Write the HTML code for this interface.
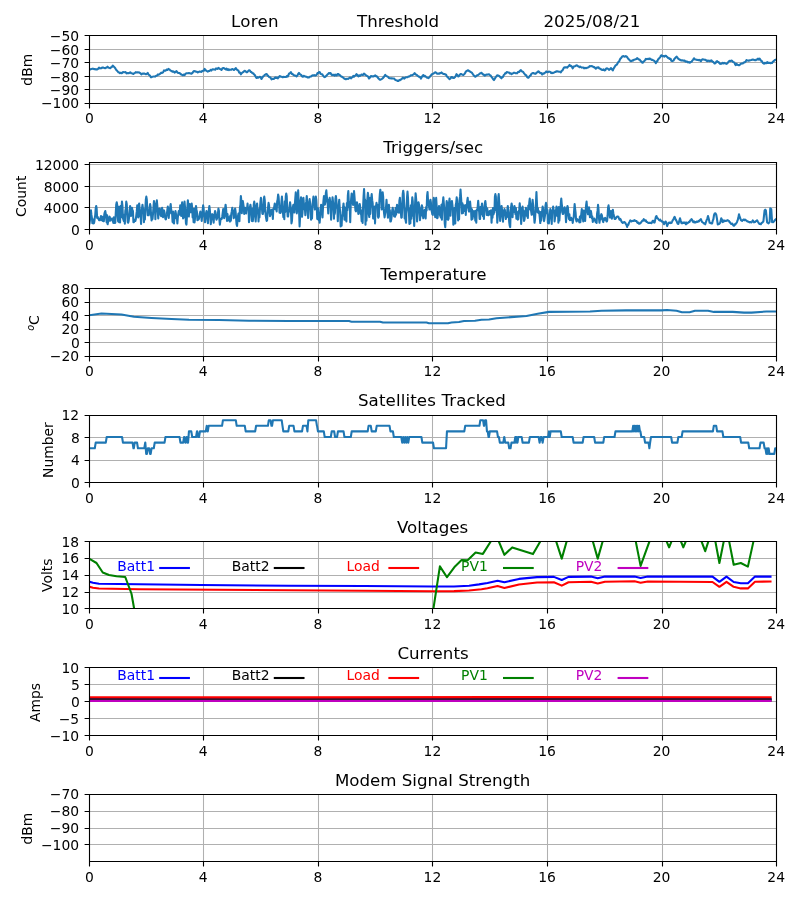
<!DOCTYPE html>
<html lang="en"><head><meta charset="utf-8"><title>Station plots</title>
<style>html,body{margin:0;padding:0;background:#fff;overflow:hidden}#fig{width:800px;height:900px;will-change:transform;transform:translateZ(0)}svg{display:block}</style></head>
<body>
<div id="fig">
<svg width="800" height="900" viewBox="0 0 800 900" font-family="'DejaVu Sans', 'Liberation Sans', sans-serif" font-size="13.89" fill="#000">
<defs>
<clipPath id="c0"><rect x="89.5" y="35.5" width="687" height="68"/></clipPath>
<clipPath id="c1"><rect x="89.5" y="162.5" width="687" height="67"/></clipPath>
<clipPath id="c2"><rect x="89.5" y="288.5" width="687" height="68"/></clipPath>
<clipPath id="c3"><rect x="89.5" y="415.5" width="687" height="67"/></clipPath>
<clipPath id="c4"><rect x="89.5" y="541.5" width="687" height="67"/></clipPath>
<clipPath id="c5"><rect x="89.5" y="667.5" width="687" height="68"/></clipPath>
<clipPath id="c6"><rect x="89.5" y="794.5" width="687" height="67"/></clipPath>
</defs>
<path d="M203.5 35.5V103.5M318.5 35.5V103.5M432.5 35.5V103.5M547.5 35.5V103.5M662.5 35.5V103.5M89.5 89.5H776.5M89.5 76.5H776.5M89.5 62.5H776.5M89.5 49.5H776.5" stroke="#b0b0b0" stroke-width="1.05" fill="none"/>
<polyline points="89.5,69.29 90.25,69.44 91,69.09 91.75,68.96 92.5,68.65 93.25,68.78 94,69.12 94.78,69.05 95.56,69.4 96.34,69.3 97.12,69.51 98.06,68.81 99,67.58 99.78,68.41 100.56,68.29 101.34,68.29 102.12,67.57 102.91,67.55 103.69,67.83 104.47,67.97 105.25,68.23 106,67.69 106.75,67.46 107.5,66.66 108.21,67.39 108.92,67.84 109.62,67.91 110.41,68.13 111.19,67.18 111.97,66.83 112.75,65.67 113.69,66.44 114.62,67.39 115.38,68.46 116.12,69.71 116.88,70.58 117.62,71.35 118.38,72.18 119.16,72.48 119.94,73.22 120.72,72.7 121.5,73.21 122.28,72.95 123.06,72.01 123.84,72.2 124.62,72.31 125.56,72.02 126.5,73.39 127.25,73.31 128,72.93 128.75,73.21 129.5,72.88 130.25,72.27 131.03,73.21 131.81,73.35 132.59,73.62 133.38,73.98 134.16,73.31 134.94,72.91 135.72,72.13 136.5,72.45 137.33,72.21 138.17,72.43 139,72.33 139.78,72.84 140.56,73.39 141.34,74.39 142.12,73.7 142.96,73.48 143.79,73.62 144.62,73.6 145.56,74.13 146.5,74.12 147.75,72.92 148.53,74.65 149.31,75.07 150.09,75.72 150.88,77.2 151.71,77.11 152.54,76.68 153.38,76.58 154.16,76.42 154.94,76.59 155.72,76.05 156.5,75.8 157.25,75.38 158,74.26 158.75,74.77 159.5,74.24 160.25,73.67 161.19,72.66 162.12,72.92 163.06,72.34 164,70.4 164.83,70.61 165.67,70.67 166.5,69.57 167.44,69.91 168.38,68.93 169.21,69.33 170.04,70.11 170.88,70.84 171.62,70.99 172.38,71.65 173.12,71.38 173.88,71.79 174.62,72.59 175.56,71.88 176.5,71.21 177.33,72.35 178.17,73.07 179,72.98 179.78,73.14 180.56,74.02 181.34,74.48 182.12,74.9 182.96,75.38 183.79,74.49 184.62,75.17 185.46,73.79 186.29,73.41 187.12,73.33 188.06,73.31 189,73.03 189.83,73.2 190.67,73.46 191.5,73.8 192.33,73.02 193.17,71.86 194,71.09 194.75,71.36 195.5,71.35 196.25,71.78 197,71.89 197.75,72.54 198.5,71.93 199.25,71.63 200,71.6 200.75,71.67 201.5,71.93 202.28,71.05 203.06,70.81 203.84,70.83 204.62,68.9 205.41,69.82 206.19,70.71 206.97,71.19 207.75,71.58 208.48,71 209.21,71.01 209.94,70.53 210.67,69.91 211.4,70.53 212.12,69.49 212.91,69.29 213.69,69.53 214.47,69.58 215.25,69.73 216.03,68.44 216.81,68.78 217.59,68.86 218.38,67.74 219.16,68.42 219.94,69.06 220.72,69.35 221.5,69.87 222.44,68.19 223.38,68.01 224.16,68.32 224.94,68.96 225.72,69.42 226.5,68.49 227.28,69.89 228.06,69.21 228.84,70.07 229.62,69.51 230.46,69.72 231.29,69.73 232.12,68.95 233.06,69.44 234,70.01 234.94,68.98 235.88,68.1 236.71,69.46 237.54,70.14 238.38,70.53 239.21,72.66 240.04,72.5 240.88,74.3 241.62,73.24 242.38,72.69 243.12,72.21 243.88,71.37 244.62,70.84 245.56,71.18 246.5,72.25 247.33,72.24 248.17,71.02 249,70.29 249.83,70.56 250.67,71.88 251.5,72.12 252.33,73.19 253.17,73.23 254,74.38 254.83,75.04 255.67,76.71 256.5,78.02 257.28,77.05 258.06,77.7 258.84,77.36 259.62,76.82 260.56,77.04 261.5,78.96 262.33,77.51 263.17,76.38 264,75.76 264.94,74.82 265.88,74.24 266.71,74.04 267.54,75.37 268.38,76.12 269.16,76.95 269.94,77.25 270.72,77.91 271.5,79.34 272.25,78.86 273,78.69 273.75,78.94 274.5,78.21 275.25,77.37 276.08,78 276.92,77.51 277.75,78.4 278.69,77.29 279.62,76.05 280.41,76.4 281.19,76.84 281.97,76.74 282.75,77.31 283.58,76.73 284.42,76.97 285.25,76.99 286.08,76.95 286.92,76.11 287.75,76.54 289,73.76 289.94,73.2 290.88,72.1 291.71,73.85 292.54,73.84 293.38,75 294.16,75.25 294.94,75.62 295.72,75.74 296.5,76.33 297.33,75.67 298.17,73.93 299,72.93 299.78,74.02 300.56,74.56 301.34,75.15 302.12,76.32 302.91,76.79 303.69,75.83 304.47,76.12 305.25,76.58 306,76.81 306.75,76.85 307.5,77.42 308.25,77.5 309,77.36 309.78,76.7 310.56,76.48 311.34,76.46 312.12,75.44 312.88,75.33 313.62,75.37 314.38,75.12 315.12,75.59 315.88,75.24 316.66,74.9 317.44,73.16 318.22,73.2 319,72.04 319.83,72.32 320.67,73.91 321.5,74.28 322.28,74.36 323.06,75.52 323.84,76.63 324.62,77.1 325.35,76.76 326.08,76 326.81,75.22 327.54,74.36 328.27,73.94 329,72.97 329.78,73.4 330.56,73.06 331.34,74.55 332.12,75.18 332.88,74.75 333.62,74.8 334.38,75.69 335.12,74.57 335.88,75.4 336.71,75.55 337.54,73.94 338.38,73.98 339.16,75.06 339.94,75.09 340.72,76 341.5,76.8 342.23,76.68 342.96,77.43 343.69,78.03 344.42,78.69 345.15,78.88 345.88,79.31 346.6,78.77 347.33,78.71 348.06,78.86 348.79,78.33 349.52,77.74 350.25,77.47 351,78.38 351.75,77.63 352.5,77.21 353.25,75.89 354,76.71 354.83,75.83 355.67,75.39 356.5,74.14 357.44,75.1 358.38,76.42 359.16,75.23 359.94,75.84 360.72,75.23 361.5,74.52 362.33,74.94 363.17,74.85 364,73.54 364.83,74.32 365.67,75.18 366.5,75.69 367.33,76.2 368.17,76.72 369,78.45 369.78,77.65 370.56,76.48 371.34,75.99 372.12,76.56 372.91,76.23 373.69,76.41 374.47,75.99 375.25,75.34 376.08,76.42 376.92,76.33 377.75,77.5 378.58,78.48 379.42,79.42 380.25,79.76 381.08,79.33 381.92,78.9 382.75,78.25 383.58,77.29 384.42,76.11 385.25,74.89 386.08,75.89 386.92,76.27 387.75,76.6 389,77.92 389.73,78.19 390.46,78.21 391.19,78.36 391.92,78.37 392.65,78.5 393.38,78.46 394.09,78.48 394.8,79.42 395.52,80.03 396.23,80.21 396.95,80.4 397.66,81 398.38,80.93 399.12,80.12 399.88,80.27 400.62,79.44 401.38,79.49 402.12,78.39 402.85,77.67 403.58,77.99 404.31,78.65 405.04,77.79 405.77,77.26 406.5,77.25 407.21,77.31 407.93,76.95 408.64,76.49 409.36,76.56 410.07,75.95 410.79,75.35 411.5,75.2 412.28,75.17 413.06,74.57 413.84,74.21 414.62,73.14 415.38,73.95 416.12,74.74 416.88,74.9 417.62,75.85 418.38,76.2 419.21,76.88 420.04,77.1 420.88,78.59 421.71,77.24 422.54,75.85 423.38,75.03 424.21,76.36 425.04,75.89 425.88,76.79 426.71,77.49 427.54,77.84 428.38,78.11 429.16,77.53 429.94,76.56 430.72,75.78 431.5,74.63 432.25,73.96 433,73.81 433.75,73.28 434.5,72.74 435.25,72.27 436.08,72.75 436.92,73.64 437.75,73.65 438.5,73.62 439.25,73.65 440,72.99 440.75,73.16 441.5,72.46 442.25,73.15 443,73.81 443.75,74.06 444.5,74.11 445.25,74.3 446.08,74.74 446.92,76.64 447.75,77.05 448.69,78.49 449.62,79.08 450.46,78.48 451.29,77.11 452.12,77.13 453.06,78 454,77.87 454.83,77.23 455.67,76.21 456.5,74.17 457.44,75.21 458.38,76.52 459.21,75.71 460.04,74.5 460.88,74.01 461.71,74.33 462.54,74.71 463.38,74.98 464.21,74.29 465.04,73.22 465.88,71.44 466.81,71.08 467.75,70.28 468.53,70.58 469.31,71.22 470.09,71.56 470.88,72.04 471.81,72.6 472.75,73.97 473.58,75.2 474.42,75.98 475.25,76.77 476.08,76.23 476.92,75.37 477.75,75.23 478.53,74.65 479.31,74.03 480.09,73.37 480.88,73.07 481.62,72.73 482.38,73.8 483.12,74.64 483.88,74.63 484.62,75.69 485.35,75.4 486.08,74.63 486.81,74.73 487.54,74.44 488.27,74.42 489,74.2 489.83,74.95 490.67,75.64 491.5,76.83 492.33,77.9 493.17,79.2 494,80.1 494.78,78.67 495.56,77.37 496.34,76.6 497.12,75.38 498.06,75.45 499,75.96 499.83,76.55 500.67,77.45 501.5,78.3 502.25,76.99 503,76.89 503.75,75.02 504.5,74.49 505.25,73.17 506,73.32 506.75,71.99 507.5,72.35 508.25,72.51 509,72.45 509.83,73.52 510.67,73.36 511.5,74.17 512.33,73.59 513.17,73.23 514,72.67 514.83,72.78 515.67,73.33 516.5,73.14 517.23,73.31 517.96,72 518.69,71.83 519.42,71.87 520.15,70.51 520.88,70.01 521.71,71.22 522.54,71.68 523.38,72.23 524.09,73.34 524.8,74.19 525.52,74.98 526.23,75.25 526.95,76.83 527.66,77.55 528.38,77.76 529.12,76.91 529.88,75.76 530.62,75.44 531.38,73.82 532.12,73.35 532.88,73.04 533.62,73.05 534.38,73.59 535.12,73.87 535.88,73.5 536.71,72.53 537.54,72.27 538.38,71.23 539.12,71.85 539.88,72.75 540.62,73.12 541.38,73.08 542.12,74.5 542.96,73.54 543.79,73.59 544.62,72.91 545.46,72.57 546.29,71.46 547.12,72.09 547.96,72.2 548.79,71.6 549.62,71.75 550.41,71.93 551.19,73.08 551.97,72.75 552.75,73.11 553.46,72.75 554.18,72.55 554.89,71.96 555.61,72.06 556.32,71.31 557.04,71.49 557.75,71.35 558.53,71.65 559.31,71.67 560.09,71.7 560.88,72.3 561.66,70.9 562.44,70.39 563.22,68.94 564,67.46 564.78,67.41 565.56,67.39 566.34,67.38 567.12,67.63 567.96,66.85 568.79,65.92 569.62,64.94 570.41,66.13 571.19,65.89 571.97,66.82 572.75,68.42 573.5,66.43 574.25,66.43 575,66.21 575.75,65.75 576.5,65.38 577.25,65.57 578,66.17 578.75,66.47 579.5,67.1 580.25,66.63 581,67.13 581.75,67.6 582.5,67.43 583.25,67.61 584,68.33 584.78,67.82 585.56,68.15 586.34,68.09 587.12,67.85 588.06,67.48 589,66.84 589.83,66.12 590.67,66.28 591.5,66.15 592.23,66.18 592.96,66.68 593.69,67.31 594.42,67.13 595.15,67.98 595.88,68.74 596.71,67.65 597.54,67.59 598.38,67.2 599.12,68.31 599.88,68.45 600.62,69.2 601.38,69.22 602.12,69.99 602.91,70 603.69,69.41 604.47,70.48 605.25,70.3 606.19,68.49 607.12,68.37 608.06,68.89 609,69.9 609.94,69.25 610.88,68.01 611.81,69.18 612.75,70.49 613.47,68.77 614.19,67.59 614.91,66.44 615.63,65.44 616.36,64.92 617.08,64.33 617.8,62.87 618.52,61.77 619.24,61.39 619.96,59.44 620.68,58.35 621.4,57.71 622.12,56.68 622.85,56.17 623.58,56.11 624.31,56.6 625.04,56.58 625.77,56.07 626.5,56.43 627.25,57.22 628,58.45 628.75,59.16 629.5,60.07 630.25,60.88 631,61.15 631.75,61.06 632.5,60.28 633.25,60.48 634,59.75 634.78,59.56 635.56,59.31 636.34,59.09 637.12,58 637.96,58.73 638.79,59.44 639.62,59.51 640.41,60.79 641.19,61.34 641.97,62.47 642.75,62.75 643.53,61.44 644.31,61.08 645.09,60.12 645.88,58.82 646.6,59.29 647.33,58.91 648.06,58.8 648.79,59.16 649.52,58.48 650.25,58.78 651.03,59.31 651.81,59.91 652.59,59.88 653.38,60.35 654.21,60.78 655.04,61.85 655.88,63.05 656.59,61.34 657.3,61.42 658.02,59.5 658.73,58.79 659.45,57.91 660.16,57.27 660.88,55.59 661.59,55.25 662.3,56.09 663.02,56.1 663.73,55.99 664.45,56.6 665.16,55.75 665.88,55.71 666.66,56.63 667.44,57.15 668.22,58.28 669,58.03 669.78,59.02 670.56,58.71 671.34,60.81 672.12,61.13 672.85,60.83 673.58,60.5 674.31,59.06 675.04,58.25 675.77,57.44 676.5,56.6 677.28,57.39 678.06,58.52 678.84,59.04 679.62,59.77 680.35,59.84 681.08,60.34 681.81,60.35 682.54,60.29 683.27,60.7 684,60.57 684.71,60.51 685.43,61.64 686.14,61.58 686.86,61.38 687.57,62.32 688.29,62.35 689,61.98 689.83,62.7 690.67,61.94 691.5,61.79 692.33,60.65 693.17,59.62 694,58.24 694.83,59.4 695.67,59.43 696.5,59.66 697.28,59.93 698.06,59.9 698.84,60.16 699.62,59.88 700.88,61.24 701.81,59.61 702.75,59.24 703.69,59.6 704.62,59.82 705.56,59.88 706.5,60.58 707.21,61.15 707.93,60.52 708.64,60.87 709.36,61.18 710.07,60.64 710.79,61.03 711.5,60.39 712.28,61.32 713.06,61.85 713.84,62.54 714.62,63.5 715.46,63.29 716.29,61.66 717.12,61.06 717.91,62.04 718.69,62.15 719.47,63.29 720.25,63.94 721.03,63.5 721.81,63.61 722.59,62.77 723.38,63.38 724.16,62.83 724.94,63.33 725.72,63.6 726.5,63.87 727.28,63.44 728.06,62.34 728.84,61.34 729.62,60.8 730.46,61.15 731.29,60.63 732.12,60.75 732.88,61.78 733.62,62.21 734.38,62.45 735.12,64.45 735.88,65.1 736.66,63.88 737.44,64.67 738.22,64.98 739,65.32 739.75,64.85 740.5,64.16 741.25,63.53 742,63.53 742.75,63.47 743.69,62.58 744.62,62.41 745.56,61.68 746.5,59.99 747.25,60.54 748,60.48 748.75,60.77 749.5,60.39 750.25,60.33 751.19,60.06 752.12,59.73 752.84,59.53 753.55,59.75 754.27,60 754.98,60.14 755.7,60.31 756.41,59.49 757.12,59.61 757.96,58.6 758.79,59.71 759.62,58.51 760.41,59.74 761.19,60.92 761.97,61.3 762.75,62.9 764,63.74 764.83,62.81 765.67,63.18 766.5,63.14 767.2,62.13 767.91,63.02 768.61,62.82 769.31,62.91 770.02,62.9 770.72,63.18 771.42,62.68 772.12,63.04 773.06,61.55 774,60.87 774.83,59.94 775.67,59.76 776.5,59.38" fill="none" stroke="#1f77b4" stroke-width="2.08" stroke-linejoin="round" stroke-linecap="square" clip-path="url(#c0)"/>
<path d="M89.5 35.5H776.5M89.5 103.5H776.5M89.5 35.5V103.5M776.5 35.5V103.5" fill="none" stroke="#000" stroke-width="1.11" stroke-linecap="square"/>
<path d="M89.5 103.5v4.9M203.5 103.5v4.9M318.5 103.5v4.9M432.5 103.5v4.9M547.5 103.5v4.9M662.5 103.5v4.9M776.5 103.5v4.9M89.5 103.5h-4.9M89.5 89.5h-4.9M89.5 76.5h-4.9M89.5 62.5h-4.9M89.5 49.5h-4.9M89.5 35.5h-4.9" stroke="#000" stroke-width="1.11" fill="none"/>
<text x="89.5" y="123.4" text-anchor="middle">0</text>
<text x="203.2" y="123.4" text-anchor="middle">4</text>
<text x="317.8" y="123.4" text-anchor="middle">8</text>
<text x="432.4" y="123.4" text-anchor="middle">12</text>
<text x="547" y="123.4" text-anchor="middle">16</text>
<text x="661.6" y="123.4" text-anchor="middle">20</text>
<text x="776.2" y="123.4" text-anchor="middle">24</text>
<text x="79.1" y="108" text-anchor="end">−100</text>
<text x="79.1" y="95" text-anchor="end">−90</text>
<text x="79.1" y="82" text-anchor="end">−80</text>
<text x="79.1" y="68" text-anchor="end">−70</text>
<text x="79.1" y="55" text-anchor="end">−60</text>
<text x="79.1" y="41" text-anchor="end">−50</text>
<text transform="translate(32.4 69.73) rotate(-90)" text-anchor="middle">dBm</text>
<text x="231" y="27.1" font-size="16.67" letter-spacing="0.3">Loren</text>
<text x="357.1" y="27.1" font-size="16.67" letter-spacing="0">Threshold</text>
<text x="543.4" y="27.1" font-size="16.67" letter-spacing="0.12">2025/08/21</text>
<path d="M203.5 162.5V229.5M318.5 162.5V229.5M432.5 162.5V229.5M547.5 162.5V229.5M662.5 162.5V229.5M89.5 207.5H776.5M89.5 186.5H776.5M89.5 164.5H776.5" stroke="#b0b0b0" stroke-width="1.05" fill="none"/>
<polyline points="89.5,223.38 89.98,219.76 90.45,212.96 90.93,210.38 91.41,214.73 91.89,217.77 92.36,223.13 92.84,219.18 93.32,222.92 93.8,223.38 94.28,221.89 94.75,218.2 95.23,215.11 95.71,208.42 96.19,206 96.66,208.78 97.14,218 97.62,216.66 98.09,218.39 98.57,219 99.05,220.24 99.53,219.52 100,220.21 100.48,217.72 100.96,216 101.44,217.88 101.91,220.28 102.39,216.81 102.87,220.88 103.35,218.48 103.83,221.27 104.3,214.14 104.78,212.31 105.26,211 105.73,213.65 106.21,218.4 106.69,222.43 107.17,215.36 107.64,224.25 108.12,221.44 108.6,221.24 109.08,217.74 109.56,216.62 110.03,218.04 110.51,220.6 110.99,219.21 111.47,219.5 111.94,218.5 112.42,219 112.9,221.05 113.38,222.88 113.85,217.37 114.33,222.04 114.81,223 115.28,222.78 115.76,212.99 116.24,204.41 116.72,202.25 117.19,205.02 117.67,215.63 118.15,221.4 118.63,206.71 119.11,222.33 119.58,212.47 120.06,222.5 120.54,205.98 121.02,217.32 121.49,208.78 121.97,201.62 122.45,205.83 122.92,217.89 123.4,219.7 123.88,221.1 124.36,214.45 124.84,223.75 125.31,210.94 125.79,208.57 126.27,201.62 126.75,203.97 127.22,213.37 127.7,221.96 128.18,222.75 128.66,220.87 129.13,216.58 129.61,210.46 130.09,206 130.56,208.78 131.04,215.95 131.52,211.57 132,207.88 132.47,210.23 132.95,211.08 133.43,222.11 133.91,222.12 134.38,220.87 134.86,219.96 135.34,221.01 135.82,219.12 136.29,215.4 136.77,211.45 137.25,205.38 137.73,208.47 138.2,217.55 138.68,206.18 139.16,203.5 139.64,208.63 140.12,216.49 140.59,215.18 141.07,224.02 141.55,212.64 142.03,207.82 142.5,204.75 142.98,208.73 143.46,209.11 143.94,222.12 144.41,215.93 144.89,219.54 145.37,208.55 145.84,199.45 146.32,196.62 146.8,199.49 147.28,208.41 147.75,215.18 148.23,215.25 148.71,215.3 149.19,212.78 149.66,207.22 150.14,204.12 150.62,207.02 151.1,215.67 151.57,220.4 152.05,213.61 152.53,218.92 153.01,213.6 153.49,207.01 153.96,201 154.44,205.9 154.92,206.5 155.39,219.31 155.87,204.2 156.35,203.19 156.83,200.38 157.31,205.58 157.78,212.41 158.26,218.38 158.74,208.93 159.22,211.63 159.69,208.5 160.17,211.19 160.65,215.12 161.12,216.2 161.6,210.09 162.08,207.88 162.56,211.13 163.03,217.21 163.51,211.39 163.99,210.38 164.47,212.23 164.94,215.64 165.42,219 165.9,219.42 166.38,216.6 166.85,214.41 167.33,210 167.81,206.62 168.29,209.78 168.76,217.89 169.24,210.64 169.72,213.4 170.2,207.32 170.68,204.12 171.15,209.5 171.63,212.81 172.11,213.91 172.58,221.85 173.06,211.52 173.54,223.06 174.02,223.38 174.5,216.97 174.97,215.02 175.45,211 175.93,213.66 176.41,218.41 176.88,216.89 177.36,223.54 177.84,217.43 178.31,213.77 178.79,211 179.27,214.74 179.75,211.73 180.22,205.38 180.7,210.7 181.18,216 181.66,206.36 182.13,202.25 182.61,208.12 183.09,218.57 183.57,217.76 184.05,208.58 184.52,201.62 185,206.85 185.48,214.07 185.95,223.11 186.43,224.62 186.91,217.17 187.39,207.1 187.87,200.38 188.34,205.45 188.82,216.55 189.3,209.98 189.77,204.12 190.25,206.47 190.73,212.17 191.21,208.71 191.69,203.5 192.16,207.91 192.64,217.57 193.12,213.63 193.59,222.14 194.07,208.82 194.55,222.46 195.03,218.06 195.5,210.04 195.98,206 196.46,209.4 196.94,211.84 197.41,220.23 197.89,216.42 198.37,219.72 198.85,219 199.32,216.68 199.8,213.72 200.28,211.62 200.76,213.25 201.24,216.7 201.71,220.88 202.19,214.94 202.67,209.95 203.14,205.38 203.62,208.2 204.1,215.88 204.58,217.62 205.06,222.3 205.53,213.54 206.01,213.35 206.49,211 206.96,213.17 207.44,219.97 207.92,223.21 208.4,214.56 208.88,210.07 209.35,206 209.83,209.82 210.31,216.07 210.78,224.18 211.26,220.19 211.74,215.64 212.22,214.12 212.69,216.84 213.17,216.85 213.65,222.7 214.13,214.85 214.6,213.98 215.08,211 215.56,212.64 216.04,217.72 216.51,219.69 216.99,218.33 217.47,217.04 217.95,213.34 218.42,208.5 218.9,210.65 219.38,219.45 219.86,224.62 220.34,220.77 220.81,218.86 221.29,218.5 221.77,218.89 222.25,216.39 222.72,212.88 223.2,209.12 223.68,212.46 224.16,218.22 224.63,216.2 225.11,208.56 225.59,204.75 226.06,208.56 226.54,214.48 227.02,220.91 227.5,214.09 227.97,220.4 228.45,218.29 228.93,217.25 229.41,218.62 229.88,221.55 230.36,215.54 230.84,220.69 231.32,213.81 231.79,211.17 232.27,207.88 232.75,210.71 233.23,211.3 233.7,218.3 234.18,216.77 234.66,211.04 235.14,208.5 235.61,211.55 236.09,218.13 236.57,224.3 237.05,225.88 237.53,220.37 238,215.84 238.48,213.5 238.96,216.02 239.44,221.11 239.91,207.44 240.39,205.01 240.87,196 241.34,200.8 241.82,213.28 242.3,203.21 242.78,201 243.25,203.78 243.73,207.22 244.21,214 244.69,209.74 245.16,207.88 245.64,208.92 246.12,213.51 246.6,208.68 247.07,208.56 247.55,203.5 248.03,209.27 248.51,207.63 248.98,222.12 249.46,215.78 249.94,207.19 250.42,204.75 250.89,207.77 251.37,209.39 251.85,221.03 252.33,208.7 252.81,221.09 253.28,215.55 253.76,204.73 254.24,201.62 254.72,204.7 255.19,215.59 255.67,221.52 256.15,213.62 256.62,206.96 257.1,203.5 257.58,209.9 258.06,209.16 258.53,221.5 259.01,213.07 259.49,217.32 259.97,208.65 260.44,201.8 260.92,197.88 261.4,203.62 261.88,207.66 262.36,213.77 262.83,214 263.31,211.61 263.79,198.66 264.26,196.62 264.74,200.17 265.22,209.81 265.7,215.27 266.17,218.24 266.65,220.88 267.13,220.14 267.61,212.75 268.08,207.1 268.56,202.88 269.04,205.23 269.52,211.5 270,216.19 270.47,214.84 270.95,211.08 271.43,209.75 271.9,211.84 272.38,211.04 272.86,219 273.34,208.61 273.81,209.29 274.29,206.36 274.77,203.5 275.25,205.88 275.73,209.43 276.2,204.59 276.68,211.5 277.16,201.48 277.63,199.6 278.11,194.5 278.59,196.73 279.07,203.47 279.54,212.75 280.02,206.04 280.5,212.89 280.98,211.49 281.45,201.79 281.93,196.62 282.41,203.47 282.89,211.72 283.37,217.14 283.84,207.78 284.32,219.16 284.8,201.19 285.27,211.94 285.75,196.46 286.23,193.5 286.71,196.14 287.19,207.93 287.66,216.5 288.14,216.41 288.62,210.93 289.1,211.61 289.57,206.45 290.05,202.25 290.53,205.71 291,212.23 291.48,223.38 291.96,220.8 292.44,212.02 292.91,206.65 293.39,204.75 293.87,209.72 294.35,212.52 294.82,205.24 295.3,198.13 295.78,192.25 296.26,197.69 296.74,213.34 297.21,210.47 297.69,198.55 298.17,190.38 298.64,201.69 299.12,212.58 299.6,226.5 300.08,217.07 300.55,201.49 301.03,197.25 301.51,200.15 301.99,216.82 302.47,212.86 302.94,201.52 303.42,197.88 303.9,203.74 304.38,209.21 304.85,207.4 305.33,215.25 305.81,204.6 306.28,201.39 306.76,196 307.24,203.31 307.72,212.82 308.19,218.06 308.67,204.7 309.15,202.38 309.63,199.12 310.11,203.12 310.58,209.65 311.06,219.62 311.54,207.3 312.01,218.44 312.49,204.9 312.97,200.66 313.45,196.62 313.92,203.88 314.4,204.33 314.88,209.57 315.36,200.24 315.83,196.62 316.31,199.85 316.79,208.22 317.27,219 317.75,218.02 318.22,208.36 318.7,220.25 319.18,213.09 319.65,222.77 320.13,216.59 320.61,211.03 321.09,204.75 321.56,207.91 322.04,208.27 322.52,217.53 323,207.38 323.48,200.49 323.95,196 324.43,199.78 324.91,204.64 325.38,201.4 325.86,192.89 326.34,190.38 326.82,196.27 327.29,200.69 327.77,204.94 328.25,213.34 328.73,199.82 329.2,200.97 329.68,197.88 330.16,201.45 330.64,207.56 331.12,219.73 331.59,209.31 332.07,203.61 332.55,197.25 333.02,201.68 333.5,205.45 333.98,218.65 334.46,206.09 334.94,213.69 335.41,198.94 335.89,196 336.37,199.99 336.85,207.79 337.32,206.93 337.8,221.27 338.28,206.89 338.75,204.86 339.23,199.75 339.71,207.25 340.19,212.01 340.66,226.5 341.14,215.73 341.62,225.8 342.1,215.3 342.57,215.59 343.05,207.41 343.53,203.5 344.01,209.33 344.49,219.82 344.96,207.59 345.44,219.72 345.92,209.25 346.39,221.5 346.87,202.97 347.35,210.31 347.83,195.68 348.31,191 348.78,201.18 349.26,207.32 349.74,204.53 350.21,222.12 350.69,205.66 351.17,198.63 351.65,193.5 352.12,196.69 352.6,201.79 353.08,204.85 353.56,198.44 354.03,191 354.51,196.91 354.99,203.83 355.47,210.5 355.94,211.36 356.42,205.29 356.9,202.25 357.38,204.1 357.85,208.2 358.33,214 358.81,211.67 359.29,207.29 359.76,204.12 360.24,207.39 360.72,214.1 361.2,214.24 361.68,221.22 362.15,210.39 362.63,222.9 363.11,206.56 363.58,196.31 364.06,189.12 364.54,198.8 365.02,199.57 365.5,224.74 365.97,200.73 366.45,220.83 366.93,207.79 367.4,198.63 367.88,192.88 368.36,196.41 368.84,214.66 369.31,216.96 369.79,198.13 370.27,214 370.75,205.2 371.22,198.21 371.7,194.12 372.18,200.15 372.66,203.13 373.13,218.46 373.61,214.64 374.09,218.73 374.57,206.44 375.05,223.38 375.52,206.5 376,206.35 376.48,202.88 376.95,206.98 377.43,204.67 377.91,216.66 378.39,217.75 378.87,216.35 379.34,201.7 379.82,194.05 380.3,189.75 380.77,193.54 381.25,196.18 381.73,209.53 382.21,196.09 382.69,192.25 383.16,196.77 383.64,208.48 384.12,213.67 384.59,217.35 385.07,214.11 385.55,211.1 386.03,207.09 386.5,199.75 386.98,206.84 387.46,212.26 387.94,217.71 388.41,206.79 388.89,204.75 389.37,209.88 389.85,210.32 390.32,221.43 390.8,221.5 391.28,219.31 391.76,215.6 392.24,210.13 392.71,207.88 393.19,210.82 393.67,211.78 394.14,216.3 394.62,216.5 395.1,216.64 395.58,208.11 396.06,214.63 396.53,209.35 397.01,204.75 397.49,207.52 397.96,212.33 398.44,209.26 398.92,212.63 399.4,200.56 399.88,197.88 400.35,204.73 400.83,212.48 401.31,217.75 401.78,217.47 402.26,205.52 402.74,193.96 403.22,190.75 403.69,193.96 404.17,205.88 404.65,218.34 405.13,208.68 405.6,220.55 406.08,222.75 406.56,206.53 407.04,197.27 407.51,191.62 407.99,197.9 408.47,209.58 408.95,213.12 409.43,223.85 409.9,208.27 410.38,223.24 410.86,205.28 411.33,218.76 411.81,204.76 412.29,197.25 412.77,201.44 413.25,216.04 413.72,215.04 414.2,225.9 414.68,212.55 415.15,202.19 415.63,193.25 416.11,198.49 416.59,205.43 417.06,221.4 417.54,210.09 418.02,206.21 418.5,202.25 418.97,204.37 419.45,211.56 419.93,220.1 420.41,216.05 420.88,215.91 421.36,207.79 421.84,205.38 422.32,206.93 422.79,214.69 423.27,218.31 423.75,215.63 424.23,211.1 424.7,209.75 425.18,211.69 425.66,218.49 426.14,206.98 426.62,210.45 427.09,195.95 427.57,192 428.05,200.51 428.52,204.44 429,206.18 429.48,209.54 429.96,202.08 430.44,199.75 430.91,202.48 431.39,209.93 431.87,211.76 432.34,214.33 432.82,214.87 433.3,201.58 433.78,197.88 434.25,200.54 434.73,210.89 435.21,217.27 435.69,203.57 436.16,197.88 436.64,205.35 437.12,218.15 437.6,218.01 438.07,212.21 438.55,209.4 439.03,206 439.51,208.82 439.99,215.19 440.46,216.5 440.94,217.73 441.42,204.75 441.89,219.79 442.37,204.97 442.85,202.61 443.33,197.25 443.81,203.15 444.28,210.06 444.76,223.69 445.24,227.12 445.71,218.46 446.19,208.29 446.67,201 447.15,203.78 447.62,219.36 448.1,219.85 448.58,218.7 449.06,202.73 449.53,198.5 450.01,204.51 450.49,215.72 450.97,204.79 451.44,206.53 451.92,201 452.4,204.81 452.88,210.14 453.35,224.62 453.83,219.7 454.31,223.4 454.79,207.71 455.26,223.54 455.74,204.88 456.22,202.61 456.7,197.25 457.18,201.22 457.65,210.41 458.13,220.43 458.61,203.86 459.08,219.18 459.56,199.73 460.04,196.93 460.52,189.5 461,196.68 461.47,203.85 461.95,213.38 462.43,203.37 462.9,213.05 463.38,206.5 463.86,205.38 464.34,207.46 464.81,211.03 465.29,205.22 465.77,214.91 466.25,205.14 466.72,207.49 467.2,201.24 467.68,197.88 468.16,204.06 468.63,210.33 469.11,211.58 469.59,204.78 470.07,201.62 470.54,206.86 471.02,209.58 471.5,219.62 471.98,209.38 472.45,218.95 472.93,216.32 473.41,212.45 473.89,211 474.37,213.72 474.84,214.7 475.32,220.63 475.8,210.69 476.27,222.75 476.75,209.67 477.23,210.43 477.71,206.51 478.19,200.75 478.66,206.83 479.14,211.64 479.62,219 480.09,218.9 480.57,206.93 481.05,214.34 481.53,207.87 482,203.5 482.48,206.99 482.96,216.11 483.44,209.33 483.91,219.01 484.39,210.33 484.87,203.3 485.35,201 485.82,205.23 486.3,208.53 486.78,214.91 487.26,208.65 487.73,214.41 488.21,215.25 488.69,215.18 489.17,212.09 489.64,211 490.12,212.57 490.6,214.69 491.08,210.34 491.56,222.75 492.03,212.03 492.51,217.77 492.99,207.98 493.46,214.54 493.94,212.75 494.42,212.16 494.9,196.79 495.38,194.12 495.85,196.45 496.33,210.25 496.81,207.74 497.28,222.75 497.76,217.01 498.24,197.62 498.72,194.12 499.19,202.18 499.67,208.52 500.15,221.01 500.63,216.46 501.1,208.21 501.58,206 502.06,209.86 502.54,214.97 503.01,221.8 503.49,210.48 503.97,211.75 504.45,209.12 504.92,210.26 505.4,215.81 505.88,219 506.36,214.34 506.83,217.18 507.31,210.23 507.79,206 508.27,209.28 508.75,214.87 509.22,222.06 509.7,225.59 510.18,227.12 510.65,212.29 511.13,206.59 511.61,203.5 512.09,206.08 512.57,217.29 513.04,207.64 513.52,212.33 514,209.81 514.47,206 514.95,208.14 515.43,214.27 515.91,208.08 516.38,218.61 516.86,211.45 517.34,218.3 517.82,219.62 518.29,219.07 518.77,212.93 519.25,209.17 519.73,203.25 520.2,209.56 520.68,208.06 521.16,223.9 521.64,216.63 522.12,212.08 522.59,206.62 523.07,211.69 523.55,210.89 524.02,221.01 524.5,219.58 524.98,215.11 525.46,211.7 525.93,207.88 526.41,210.12 526.89,215.9 527.37,215.78 527.85,217.96 528.32,205.61 528.8,209.57 529.28,202.49 529.75,198.5 530.23,204.88 530.71,208.13 531.19,211.62 531.66,214.82 532.14,204.69 532.62,199.75 533.1,205.01 533.58,214 534.05,215.89 534.53,222.75 535.01,219.26 535.48,212 535.96,202.48 536.44,192 536.92,202.79 537.39,212.06 537.87,208.14 538.35,212.95 538.83,211 539.31,213.45 539.78,217.56 540.26,223.08 540.74,212.03 541.21,220.54 541.69,215.91 542.17,210.8 542.65,206.62 543.12,208.79 543.6,214.28 544.08,221.15 544.56,218.26 545.03,215.11 545.51,205.36 545.99,202.88 546.47,205.1 546.94,213.35 547.42,209.91 547.9,222.98 548.38,216.15 548.86,223.36 549.33,218.38 549.81,213.26 550.29,209.12 550.76,210.61 551.24,216.32 551.72,224 552.2,211.4 552.67,211.34 553.15,206.62 553.63,209.9 554.11,210.39 554.59,221.5 555.06,217.25 555.54,215.44 556.02,210.17 556.5,206.62 556.97,209.81 557.45,215.98 557.93,207.7 558.4,222.75 558.88,207.07 559.36,220.56 559.84,213.32 560.32,212.3 560.79,203.3 561.27,198.5 561.75,204.02 562.22,207.64 562.7,214 563.18,213.96 563.66,211.8 564.13,209.27 564.61,207.25 565.09,209.7 565.57,213.89 566.04,222.12 566.52,214.17 567,208.16 567.48,206 567.95,207.76 568.43,214.86 568.91,219 569.39,214.3 569.87,220.25 570.34,219.86 570.82,219.93 571.3,217.88 571.77,219.84 572.25,219.11 572.73,222.94 573.21,219.4 573.68,217.53 574.16,210.34 574.64,204.12 575.12,208.78 575.6,212.73 576.07,219.74 576.55,221.5 577.03,219.08 577.5,220.6 577.98,219.75 578.46,220.55 578.94,220.88 579.41,222.32 579.89,216.65 580.37,222.16 580.85,218.01 581.33,213.57 581.8,209.12 582.28,212.02 582.76,216.41 583.23,221.35 583.71,210.46 584.19,220.59 584.67,216.84 585.14,220.88 585.62,210.62 586.1,205.26 586.58,201.62 587.06,207.91 587.53,211.72 588.01,214.24 588.49,211.18 588.96,207.25 589.44,210.33 589.92,217.17 590.4,213.18 590.88,211 591.35,213.77 591.83,218.17 592.31,216.58 592.78,221.94 593.26,219.86 593.74,219.6 594.22,218.5 594.69,219.41 595.17,220.84 595.65,222.1 596.13,219.61 596.61,222.88 597.08,213.67 597.56,210.63 598.04,204.75 598.51,209.07 598.99,218.46 599.47,222.75 599.95,219.12 600.42,219.41 600.9,215.48 601.38,214.12 601.86,215.15 602.33,218.6 602.81,220.79 603.29,222.12 603.77,218.43 604.25,219.93 604.72,218.74 605.2,217.88 605.68,218.8 606.15,220.4 606.63,221.5 607.11,220.96 607.59,215.95 608.06,207.44 608.54,205.38 609.02,209.06 609.5,213.08 609.98,217.53 610.45,213.18 610.93,211 611.41,212.28 611.88,218.6 612.36,212.69 612.84,209.75 613.32,213.2 614.62,219.03 615.25,218.91 615.88,218.41 616.5,217.09 617.12,216.54 617.75,216.59 618.38,216.76 619,218.48 619.62,219.72 620.25,218.78 620.88,219.98 621.5,221.57 622.12,222.43 622.75,222.93 623.38,222.53 624,222.15 624.62,222.06 625.25,222.84 625.88,224.01 626.5,225.06 627.12,227.05 627.75,224.53 628.38,224.8 629,222.71 629.62,221.75 630.25,220.45 630.88,220.91 631.5,221.41 632.12,220.94 632.75,221.05 633.38,220.57 634,220.96 634.62,220.15 635.25,220.86 635.88,220.94 636.5,221.02 637.12,222.46 637.75,223 638.38,222.48 639,223.7 639.62,223.67 640.31,223.29 641,222.5 641.69,221.57 642.38,220.63 643.06,220.77 643.75,219.19 644.42,220.01 645.08,220.84 645.75,220.25 646.42,221.87 647.08,221.91 647.75,222.52 648.38,222.94 649,222.86 649.62,223.03 650.25,222.77 650.88,222.79 651.5,223.13 652.12,222.04 652.75,220.76 653.38,220.69 654,222.41 654.62,222.58 655.25,219.65 655.88,216.77 656.5,215.98 657.12,218.04 657.75,218.29 658.38,219.18 659,219.93 659.62,220.44 660.25,219.67 660.88,220.9 661.5,221.06 662.12,221.66 662.75,221.59 663.38,222.64 664,224.19 664.75,222.79 665.5,221.48 666.31,222.41 667.12,226.07 667.75,224.4 668.38,223.47 669,222.47 669.62,222.9 670.25,223.1 670.88,222.25 671.5,222.89 672.12,221.57 672.75,220.05 673.38,219.64 674,217.73 674.62,216.79 675.25,218.38 675.88,219.85 676.5,220.86 677.12,222.43 677.75,223.74 678.38,223.94 679.19,221.2 680,218.24 680.75,220.85 681.5,223.16 682.12,222.64 682.75,223.11 683.38,222.46 684,222.87 684.62,222.44 685.25,222.77 685.88,224.29 686.5,222.5 687.12,223.38 687.75,222.87 688.38,222.81 689,221.72 689.62,221.94 690.25,220.43 690.88,220 691.5,219.18 692.12,219.97 692.75,221.54 693.38,222.12 694,221.24 694.62,222.46 695.25,222.15 695.88,222.44 696.5,221.51 697.12,221.49 697.75,221.96 698.38,221.11 699,221.36 699.62,220.22 700.25,219.89 700.88,219.04 701.5,220.71 702.12,222.01 702.75,222.59 703.38,222.71 704,223.5 704.62,223.6 705.25,224.29 705.94,222.04 706.62,220.17 707.31,218.59 708,216.02 708.81,218.95 709.62,222.82 710.25,222.69 710.88,223.2 711.5,223.44 712.12,223.4 712.75,220.65 713.38,219.24 714,215.21 714.62,213.54 715.44,213.33 716.25,214.73 717,219.03 717.75,224.41 718.38,224.29 719,224.1 719.62,223.52 720.25,222.59 721.25,218.32 722,219.65 722.75,222.11 723.38,221.56 724,220.42 724.62,221.16 725.25,220.69 725.88,220.97 726.5,220.77 727.12,220.41 727.75,220.17 728.38,220.82 729,221 729.62,222.13 730.25,222.66 730.88,223.83 731.5,224.05 732.12,223.51 732.75,224.62 733.38,225.44 734,225.72 734.62,224.36 735.25,224.59 735.88,223.64 736.5,222.92 737.12,221.71 737.75,219.9 738.38,217.64 739,214.23 739.62,216.79 740.25,218.23 740.88,219.97 741.5,220.7 742.12,220.85 742.75,220.32 743.38,219.53 744,219.47 744.62,220.27 745.25,219.67 745.88,220.36 746.5,220.59 747.12,221.26 747.75,221.38 748.38,221.86 749,222.02 749.62,222.33 750.25,221.98 750.88,222.19 751.5,222.4 752.12,221.57 752.75,220.36 753.38,221.16 754,222.37 754.62,222.11 755.25,221.93 755.88,220.98 756.5,220.97 757.12,220.27 757.75,221.48 758.38,222.48 759,223.45 759.62,224.07 760.25,224 760.88,224.26 761.5,223.01 762.12,222.7 762.75,222.16 763.38,221.49 764,215.52 764.62,210.4 765.25,209.72 765.88,210.46 766.5,216.57 767.12,222.47 767.75,222.66 768.38,223.35 769,222.8 769.62,221.93 770.25,208.4 771.25,209.04 772.12,222.22 772.75,221.7 773.38,222.09 774,221.4 774.62,220.47 775.25,219.79 775.88,219.09 776.5,219.5" fill="none" stroke="#1f77b4" stroke-width="2.08" stroke-linejoin="round" stroke-linecap="square" clip-path="url(#c1)"/>
<path d="M89.5 162.5H776.5M89.5 229.5H776.5M89.5 162.5V229.5M776.5 162.5V229.5" fill="none" stroke="#000" stroke-width="1.11" stroke-linecap="square"/>
<path d="M89.5 229.5v4.9M203.5 229.5v4.9M318.5 229.5v4.9M432.5 229.5v4.9M547.5 229.5v4.9M662.5 229.5v4.9M776.5 229.5v4.9M89.5 229.5h-4.9M89.5 207.5h-4.9M89.5 186.5h-4.9M89.5 164.5h-4.9" stroke="#000" stroke-width="1.11" fill="none"/>
<text x="89.5" y="250.4" text-anchor="middle">0</text>
<text x="203.2" y="250.4" text-anchor="middle">4</text>
<text x="317.8" y="250.4" text-anchor="middle">8</text>
<text x="432.4" y="250.4" text-anchor="middle">12</text>
<text x="547" y="250.4" text-anchor="middle">16</text>
<text x="661.6" y="250.4" text-anchor="middle">20</text>
<text x="776.2" y="250.4" text-anchor="middle">24</text>
<text x="79.9" y="235" text-anchor="end">0</text>
<text x="79.1" y="213" text-anchor="end">4000</text>
<text x="79.1" y="192" text-anchor="end">8000</text>
<text x="79.1" y="170" text-anchor="end">12000</text>
<text transform="translate(26.2 196.28) rotate(-90)" text-anchor="middle">Count</text>
<text x="433.2" y="152.6" text-anchor="middle" font-size="16.67" letter-spacing="0">Triggers/sec</text>
<path d="M203.5 288.5V356.5M318.5 288.5V356.5M432.5 288.5V356.5M547.5 288.5V356.5M662.5 288.5V356.5M89.5 342.5H776.5M89.5 329.5H776.5M89.5 315.5H776.5M89.5 302.5H776.5" stroke="#b0b0b0" stroke-width="1.05" fill="none"/>
<polyline points="89.5,315.2 101.5,313.5 121.5,314.5 134,316.75 151.5,318 171.5,319 189,319.75 219,320 249,320.75 289,321 349,321 351.5,321.75 380,321.75 383,322.5 426.5,322.5 429,323.25 448,323.25 451.5,322.5 459,322 464,321 475,320.75 481.5,319.75 489,319.5 496.5,318.25 526.5,316 537.75,313.75 549,311.9 590,311.5 601.5,310.75 626,310.4 661.5,310.4 667,310 676.5,310.75 682,312.25 689.6,312.25 695,310.75 708,310.75 714,311.9 732.7,311.9 744,312.6 751.5,312.6 766.5,311.5 776.5,311.5" fill="none" stroke="#1f77b4" stroke-width="2.08" stroke-linejoin="round" stroke-linecap="square" clip-path="url(#c2)"/>
<path d="M89.5 288.5H776.5M89.5 356.5H776.5M89.5 288.5V356.5M776.5 288.5V356.5" fill="none" stroke="#000" stroke-width="1.11" stroke-linecap="square"/>
<path d="M89.5 356.5v4.9M203.5 356.5v4.9M318.5 356.5v4.9M432.5 356.5v4.9M547.5 356.5v4.9M662.5 356.5v4.9M776.5 356.5v4.9M89.5 356.5h-4.9M89.5 342.5h-4.9M89.5 329.5h-4.9M89.5 315.5h-4.9M89.5 302.5h-4.9M89.5 288.5h-4.9" stroke="#000" stroke-width="1.11" fill="none"/>
<text x="89.5" y="376.4" text-anchor="middle">0</text>
<text x="203.2" y="376.4" text-anchor="middle">4</text>
<text x="317.8" y="376.4" text-anchor="middle">8</text>
<text x="432.4" y="376.4" text-anchor="middle">12</text>
<text x="547" y="376.4" text-anchor="middle">16</text>
<text x="661.6" y="376.4" text-anchor="middle">20</text>
<text x="776.2" y="376.4" text-anchor="middle">24</text>
<text x="79.1" y="361" text-anchor="end">−20</text>
<text x="79.9" y="348" text-anchor="end">0</text>
<text x="79.1" y="334" text-anchor="end">20</text>
<text x="79.1" y="321" text-anchor="end">40</text>
<text x="79.1" y="307" text-anchor="end">60</text>
<text x="79.1" y="294" text-anchor="end">80</text>
<text transform="translate(38.7 323.03) rotate(-90)" text-anchor="middle"><tspan font-size="9.72" font-style="italic" dy="-4.6">o</tspan><tspan dy="4.6">C</tspan></text>
<text x="433.4" y="280.1" text-anchor="middle" font-size="16.67" letter-spacing="0.08">Temperature</text>
<path d="M203.5 415.5V482.5M318.5 415.5V482.5M432.5 415.5V482.5M547.5 415.5V482.5M662.5 415.5V482.5M89.5 460.5H776.5M89.5 437.5H776.5" stroke="#b0b0b0" stroke-width="1.05" fill="none"/>
<polyline points="88.6,448.27 94.8,448.27 95.7,442.65 105.8,442.65 106.7,437.03 122.05,437.03 122.95,442.65 132.55,442.65 133.45,448.27 133.8,448.27 134.7,442.65 137.05,442.65 137.95,448.27 144.3,448.27 145.2,442.65 145.3,442.65 146.2,453.9 146.93,453.9 147.82,448.27 149.18,448.27 150.07,453.9 150.68,453.9 151.57,448.27 153.8,448.27 154.7,442.65 164.55,442.65 165.45,437.03 179.55,437.03 180.45,442.65 183.18,442.65 184.07,437.03 184.43,437.03 185.32,442.65 185.68,442.65 186.57,437.03 186.68,437.03 187.57,442.65 188.05,442.65 188.95,431.41 191.3,431.41 192.2,437.03 196.05,437.03 196.95,431.41 197.3,431.41 198.2,437.03 199.05,437.03 199.95,431.41 205.8,431.41 206.7,425.79 206.8,425.79 207.7,431.41 207.8,431.41 208.7,425.79 222.05,425.79 222.95,420.17 235.8,420.17 236.7,425.79 244.8,425.79 245.7,431.41 255.18,431.41 256.07,425.79 267.93,425.79 268.82,420.17 270.55,420.17 271.45,425.79 272.05,425.79 272.95,420.17 281.68,420.17 282.5,425.79 282.5,425.79 283.32,431.41 288.3,431.41 289.2,425.79 293.55,425.79 294.45,431.41 302.05,431.41 302.95,425.79 306.55,425.79 307.44,431.41 307.44,431.41 308.32,420.17 316.05,420.17 316.95,425.79 317.05,425.79 317.95,431.41 323.8,431.41 324.7,437.03 330.8,437.03 331.7,431.41 334.18,431.41 335.07,437.03 337.05,437.03 337.95,431.41 343.55,431.41 344.45,437.03 350.8,437.03 351.7,431.41 367.68,431.41 368.57,425.79 370.8,425.79 371.7,431.41 375.8,431.41 376.7,425.79 389.55,425.79 390.45,431.41 392.93,431.41 393.82,437.03 401.3,437.03 402.2,442.65 402.3,442.65 403.2,437.03 403.3,437.03 404.2,442.65 404.3,442.65 405.2,437.03 405.3,437.03 406.2,442.65 406.3,442.65 407.2,437.03 407.3,437.03 408.2,442.65 408.3,442.65 409.2,437.03 421.43,437.03 422.32,442.65 433.05,442.65 433.95,448.27 446.05,448.27 446.95,431.41 464.3,431.41 465.2,425.79 479.43,425.79 480.32,420.17 483.05,420.17 483.95,425.79 484.18,425.79 485.07,420.17 486.05,420.17 486.95,431.41 487.68,431.41 488.57,437.03 488.93,437.03 489.82,431.41 497.05,431.41 497.95,437.03 498.93,437.03 499.82,442.65 503.3,442.65 504.2,437.03 504.3,437.03 505.2,442.65 508.3,442.65 509.2,448.27 510.55,448.27 511.45,442.65 514.42,442.65 515.25,437.03 515.25,437.03 516,442.65 516,442.65 516.75,437.03 516.75,437.03 517.5,442.65 517.5,442.65 518.33,437.03 521.67,437.03 522.58,442.65 528.92,442.65 529.83,437.03 538.67,437.03 539.58,442.65 539.67,442.65 540.58,437.03 541.67,437.03 542.58,442.65 542.67,442.65 543.58,437.03 548.17,437.03 549,431.41 549,431.41 549.75,437.03 549.75,437.03 550.58,431.41 560.8,431.41 561.7,437.03 572.67,437.03 573.58,442.65 582.67,442.65 583.58,437.03 594.17,437.03 595.08,442.65 603.3,442.65 604.2,437.03 614.55,437.03 615.45,431.41 632.3,431.41 633.12,425.79 633.12,425.79 633.88,431.41 633.88,431.41 634.62,425.79 634.62,425.79 635.38,431.41 635.38,431.41 636.12,425.79 636.12,425.79 636.88,431.41 636.88,431.41 637.62,425.79 637.62,425.79 638.38,431.41 638.38,431.41 639.12,425.79 639.12,425.79 639.95,431.41 640.42,431.41 641.33,437.03 644.17,437.03 645.08,442.65 648.55,442.65 649.38,448.27 649.38,448.27 650.12,442.65 650.12,442.65 650.95,437.03 671.17,437.03 672.08,442.65 677.42,442.65 678.33,437.03 681.67,437.03 682.58,431.41 712.92,431.41 713.83,425.79 716.17,425.79 717.08,431.41 722.42,431.41 723.33,437.03 740.17,437.03 741.08,442.65 748.3,442.65 749.2,448.27 759.55,448.27 760.45,442.65 763.67,442.65 764.58,448.27 765.42,448.27 766.31,453.9 766.31,453.9 767.12,448.27 767.12,448.27 767.88,453.9 767.88,453.9 768.62,448.27 768.62,448.27 769.45,453.9 774.3,453.9 775.2,448.27 776.2,448.27" fill="none" stroke="#1f77b4" stroke-width="2.08" stroke-linejoin="round" stroke-linecap="square" clip-path="url(#c3)"/>
<path d="M89.5 415.5H776.5M89.5 482.5H776.5M89.5 415.5V482.5M776.5 415.5V482.5" fill="none" stroke="#000" stroke-width="1.11" stroke-linecap="square"/>
<path d="M89.5 482.5v4.9M203.5 482.5v4.9M318.5 482.5v4.9M432.5 482.5v4.9M547.5 482.5v4.9M662.5 482.5v4.9M776.5 482.5v4.9M89.5 482.5h-4.9M89.5 460.5h-4.9M89.5 437.5h-4.9M89.5 415.5h-4.9" stroke="#000" stroke-width="1.11" fill="none"/>
<text x="89.5" y="503.4" text-anchor="middle">0</text>
<text x="203.2" y="503.4" text-anchor="middle">4</text>
<text x="317.8" y="503.4" text-anchor="middle">8</text>
<text x="432.4" y="503.4" text-anchor="middle">12</text>
<text x="547" y="503.4" text-anchor="middle">16</text>
<text x="661.6" y="503.4" text-anchor="middle">20</text>
<text x="776.2" y="503.4" text-anchor="middle">24</text>
<text x="79.9" y="488" text-anchor="end">0</text>
<text x="79.9" y="465" text-anchor="end">4</text>
<text x="79.9" y="443" text-anchor="end">8</text>
<text x="79.1" y="420" text-anchor="end">12</text>
<text transform="translate(53.4 450.08) rotate(-90)" text-anchor="middle">Number</text>
<text x="432" y="405.6" text-anchor="middle" font-size="16.67" letter-spacing="0.12">Satellites Tracked</text>
<path d="M203.5 541.5V608.5M318.5 541.5V608.5M432.5 541.5V608.5M547.5 541.5V608.5M662.5 541.5V608.5M89.5 592.5H776.5M89.5 575.5H776.5M89.5 558.5H776.5" stroke="#b0b0b0" stroke-width="1.05" fill="none"/>
<polyline points="89.5,581.8 93,582.8 99,583.75 139,584.25 201.5,585 289,585.75 364,586 432.75,586.5 454,586.5 469,585.75 479,584.4 487.5,583 497.6,580.7 504.4,582.25 519,578.9 537,577.1 553.9,576.9 561.75,580 568.5,576.9 591,576.6 597.75,578.2 604.9,576.6 634.6,576.6 640.6,578 647.7,576.6 712.5,576.6 719.4,581.8 726.5,576.6 733.7,582 740.8,583.2 747.9,583.2 755,576.6 770.5,576.6" fill="none" stroke="#0000ff" stroke-width="2.08" stroke-linejoin="round" stroke-linecap="square" clip-path="url(#c4)"/>
<polyline points="89.5,586.8 93,587.8 99,588.5 139,589.25 289,590.25 364,590.75 432.75,591.25 454,591.1 469,590.5 481.5,589.25 487.5,588.3 497.6,586.1 504.4,587.9 519,584.5 537,582.5 553.9,582.25 561.75,585.6 568.5,582.25 591,581.8 597.75,583.4 604.9,581.8 634.6,581.3 640.6,582.7 647.7,581.5 712.5,582 719.4,586.8 726.5,581.8 733.7,586.8 740.8,588.4 747.9,588.4 755,581.8 770.5,581.5" fill="none" stroke="#ff0000" stroke-width="2.08" stroke-linejoin="round" stroke-linecap="square" clip-path="url(#c4)"/>
<polyline points="89.5,558.9 96.5,563 102.75,572.5 109,575 116.5,576.25 125.25,577 131.5,593.75 134.2,609 136,620" fill="none" stroke="#008000" stroke-width="2.08" stroke-linejoin="round" stroke-linecap="square" clip-path="url(#c4)"/>
<polyline points="432.5,615 433.5,608.1 439.9,566.4 447,577.2 455,566.4 461.6,560.1 467.6,560.3 475.6,552.5 482.9,553.9 490.9,541.3 494.8,533 498.75,541.3 504.4,554.8 512.25,547.4 533,554.1 540.4,541.3 548.2,528 556.1,541.3 561.75,558.6 566.7,541.3 579.7,496 592.8,541.3 597.75,558.6 602.7,541.3 619.2,484 635.8,541.6 640.6,565.9 649.4,541.6 658,518 666.7,541.6 669.1,547.4 671.4,541.6 676.2,530 681,541.6 683.3,547.4 685.7,541.6 693.6,522 701.6,541.6 705.2,551.2 708.3,541.6 711.8,531 715.4,541.6 719.4,563 723.7,541.6 726.5,528 729.2,541.6 733.7,564.7 740.8,563 747.9,566.6 753.4,541.6 757,525" fill="none" stroke="#008000" stroke-width="2.08" stroke-linejoin="round" stroke-linecap="square" clip-path="url(#c4)"/>
<text x="117.25" y="571" fill="#0000ff">Batt1</text>
<path d="M160.22 568H188.88" stroke="#0000ff" stroke-width="2.1" stroke-linecap="square" fill="none"/>
<text x="231.85" y="571" fill="#000000">Batt2</text>
<path d="M274.83 568H303.48" stroke="#000000" stroke-width="2.1" stroke-linecap="square" fill="none"/>
<text x="346.45" y="571" fill="#ff0000">Load</text>
<path d="M389.42 568H418.08" stroke="#ff0000" stroke-width="2.1" stroke-linecap="square" fill="none"/>
<text x="461.05" y="571" fill="#008000">PV1</text>
<path d="M504.02 568H532.68" stroke="#008000" stroke-width="2.1" stroke-linecap="square" fill="none"/>
<text x="575.65" y="571" fill="#bf00bf">PV2</text>
<path d="M618.62 568H647.28" stroke="#bf00bf" stroke-width="2.1" stroke-linecap="square" fill="none"/>
<path d="M89.5 541.5H776.5M89.5 608.5H776.5M89.5 541.5V608.5M776.5 541.5V608.5" fill="none" stroke="#000" stroke-width="1.11" stroke-linecap="square"/>
<path d="M89.5 608.5v4.9M203.5 608.5v4.9M318.5 608.5v4.9M432.5 608.5v4.9M547.5 608.5v4.9M662.5 608.5v4.9M776.5 608.5v4.9M89.5 608.5h-4.9M89.5 592.5h-4.9M89.5 575.5h-4.9M89.5 558.5h-4.9M89.5 541.5h-4.9" stroke="#000" stroke-width="1.11" fill="none"/>
<text x="89.5" y="629.4" text-anchor="middle">0</text>
<text x="203.2" y="629.4" text-anchor="middle">4</text>
<text x="317.8" y="629.4" text-anchor="middle">8</text>
<text x="432.4" y="629.4" text-anchor="middle">12</text>
<text x="547" y="629.4" text-anchor="middle">16</text>
<text x="661.6" y="629.4" text-anchor="middle">20</text>
<text x="776.2" y="629.4" text-anchor="middle">24</text>
<text x="79.1" y="614" text-anchor="end">10</text>
<text x="79.1" y="597" text-anchor="end">12</text>
<text x="79.1" y="580" text-anchor="end">14</text>
<text x="79.1" y="563" text-anchor="end">16</text>
<text x="79.1" y="547" text-anchor="end">18</text>
<text transform="translate(52 575.23) rotate(-90)" text-anchor="middle">Volts</text>
<text x="432.6" y="533.1" text-anchor="middle" font-size="16.67" letter-spacing="0">Voltages</text>
<path d="M203.5 667.5V735.5M318.5 667.5V735.5M432.5 667.5V735.5M547.5 667.5V735.5M662.5 667.5V735.5M89.5 718.5H776.5M89.5 701.5H776.5M89.5 684.5H776.5" stroke="#b0b0b0" stroke-width="1.05" fill="none"/>
<polyline points="88.6,699.2 770.6,699.2" fill="none" stroke="#0000ff" stroke-width="2.08" stroke-linejoin="round" stroke-linecap="square" clip-path="url(#c5)"/>
<polyline points="88.6,699.3 770.6,699.3" fill="none" stroke="#000000" stroke-width="2.08" stroke-linejoin="round" stroke-linecap="square" clip-path="url(#c5)"/>
<polyline points="88.6,697.3 300,697.4 500,697.1 770.6,697.2" fill="none" stroke="#ff0000" stroke-width="2.08" stroke-linejoin="round" stroke-linecap="square" clip-path="url(#c5)"/>
<polyline points="88.6,700.8 770.6,700.8" fill="none" stroke="#008000" stroke-width="2.08" stroke-linejoin="round" stroke-linecap="square" clip-path="url(#c5)"/>
<polyline points="88.6,700.9 770.6,700.9" fill="none" stroke="#bf00bf" stroke-width="2.08" stroke-linejoin="round" stroke-linecap="square" clip-path="url(#c5)"/>
<text x="117.25" y="680" fill="#0000ff">Batt1</text>
<path d="M160.22 678H188.88" stroke="#0000ff" stroke-width="2.1" stroke-linecap="square" fill="none"/>
<text x="231.85" y="680" fill="#000000">Batt2</text>
<path d="M274.83 678H303.48" stroke="#000000" stroke-width="2.1" stroke-linecap="square" fill="none"/>
<text x="346.45" y="680" fill="#ff0000">Load</text>
<path d="M389.42 678H418.08" stroke="#ff0000" stroke-width="2.1" stroke-linecap="square" fill="none"/>
<text x="461.05" y="680" fill="#008000">PV1</text>
<path d="M504.02 678H532.68" stroke="#008000" stroke-width="2.1" stroke-linecap="square" fill="none"/>
<text x="575.65" y="680" fill="#bf00bf">PV2</text>
<path d="M618.62 678H647.28" stroke="#bf00bf" stroke-width="2.1" stroke-linecap="square" fill="none"/>
<path d="M89.5 667.5H776.5M89.5 735.5H776.5M89.5 667.5V735.5M776.5 667.5V735.5" fill="none" stroke="#000" stroke-width="1.11" stroke-linecap="square"/>
<path d="M89.5 735.5v4.9M203.5 735.5v4.9M318.5 735.5v4.9M432.5 735.5v4.9M547.5 735.5v4.9M662.5 735.5v4.9M776.5 735.5v4.9M89.5 735.5h-4.9M89.5 718.5h-4.9M89.5 701.5h-4.9M89.5 684.5h-4.9M89.5 667.5h-4.9" stroke="#000" stroke-width="1.11" fill="none"/>
<text x="89.5" y="756.4" text-anchor="middle">0</text>
<text x="203.2" y="756.4" text-anchor="middle">4</text>
<text x="317.8" y="756.4" text-anchor="middle">8</text>
<text x="432.4" y="756.4" text-anchor="middle">12</text>
<text x="547" y="756.4" text-anchor="middle">16</text>
<text x="661.6" y="756.4" text-anchor="middle">20</text>
<text x="776.2" y="756.4" text-anchor="middle">24</text>
<text x="79.1" y="741" text-anchor="end">−10</text>
<text x="79.1" y="724" text-anchor="end">−5</text>
<text x="79.9" y="707" text-anchor="end">0</text>
<text x="79.9" y="690" text-anchor="end">5</text>
<text x="79.1" y="673" text-anchor="end">10</text>
<text transform="translate(40 702.48) rotate(-90)" text-anchor="middle">Amps</text>
<text x="433" y="658.6" text-anchor="middle" font-size="16.67" letter-spacing="0">Currents</text>
<path d="M203.5 794.5V861.5M318.5 794.5V861.5M432.5 794.5V861.5M547.5 794.5V861.5M662.5 794.5V861.5M89.5 844.5H776.5M89.5 828.5H776.5M89.5 811.5H776.5" stroke="#b0b0b0" stroke-width="1.05" fill="none"/>
<path d="M89.5 794.5H776.5M89.5 861.5H776.5M89.5 794.5V861.5M776.5 794.5V861.5" fill="none" stroke="#000" stroke-width="1.11" stroke-linecap="square"/>
<path d="M89.5 861.5v4.9M203.5 861.5v4.9M318.5 861.5v4.9M432.5 861.5v4.9M547.5 861.5v4.9M662.5 861.5v4.9M776.5 861.5v4.9M89.5 844.5h-4.9M89.5 828.5h-4.9M89.5 811.5h-4.9M89.5 794.5h-4.9" stroke="#000" stroke-width="1.11" fill="none"/>
<text x="89.5" y="882.4" text-anchor="middle">0</text>
<text x="203.2" y="882.4" text-anchor="middle">4</text>
<text x="317.8" y="882.4" text-anchor="middle">8</text>
<text x="432.4" y="882.4" text-anchor="middle">12</text>
<text x="547" y="882.4" text-anchor="middle">16</text>
<text x="661.6" y="882.4" text-anchor="middle">20</text>
<text x="776.2" y="882.4" text-anchor="middle">24</text>
<text x="79.1" y="850" text-anchor="end">−100</text>
<text x="79.1" y="833" text-anchor="end">−90</text>
<text x="79.1" y="816" text-anchor="end">−80</text>
<text x="79.1" y="799" text-anchor="end">−70</text>
<text transform="translate(32.2 828.63) rotate(-90)" text-anchor="middle">dBm</text>
<text x="432.6" y="786.1" text-anchor="middle" font-size="16.67" letter-spacing="0">Modem Signal Strength</text>
</svg>
</div>
</body></html>
